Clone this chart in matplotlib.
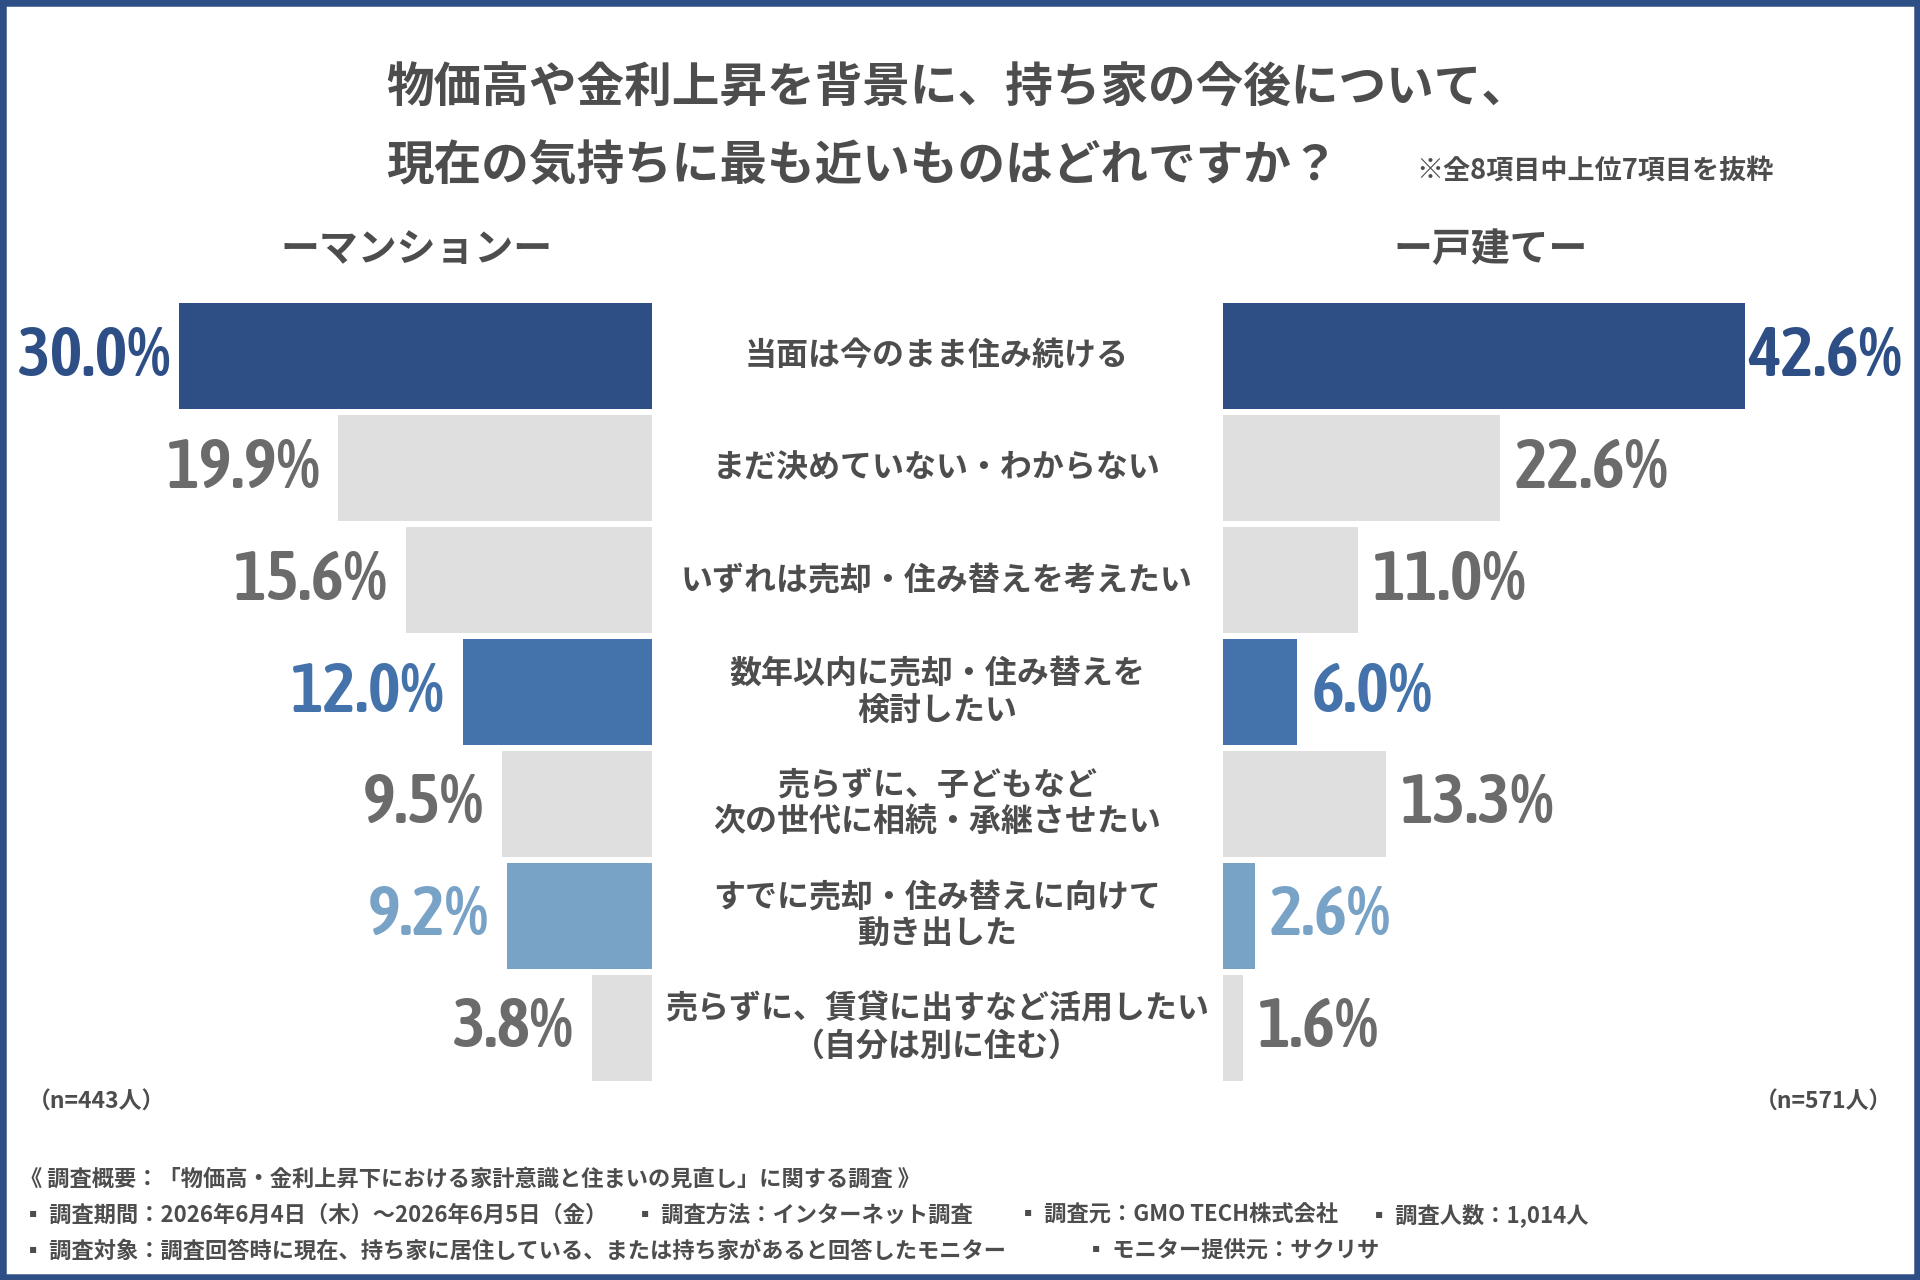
import matplotlib
matplotlib.use("Agg")
import matplotlib.pyplot as plt
from matplotlib import font_manager
from matplotlib.font_manager import FontProperties
from matplotlib.patches import Rectangle
from matplotlib.transforms import blended_transform_factory

# ---------------- data ----------------
categories = [
    "当面は今のまま住み続ける",
    "まだ決めていない・わからない",
    "いずれは売却・住み替えを考えたい",
    "数年以内に売却・住み替えを\n検討したい",
    "売らずに、子どもなど\n次の世代に相続・承継させたい",
    "すでに売却・住み替えに向けて\n動き出した",
    "売らずに、賃貸に出すなど活用したい\n（自分は別に住む）",
]
mansion = [30.0, 19.9, 15.6, 12.0, 9.5, 9.2, 3.8]
kodate = [42.6, 22.6, 11.0, 6.0, 13.3, 2.6, 1.6]
n_mansion = "（n=443人）"
n_kodate = "（n=571人）"
title_lines = ["物価高や金利上昇を背景に、持ち家の今後について、",
               "現在の気持ちに最も近いものはどれですか？"]
note = "※全8項目中上位7項目を抜粋"
left_header = "ーマンションー"
right_header = "ー戸建てー"
footer_line1 = "《 調査概要：「物価高・金利上昇下における家計意識と住まいの見直し」に関する調査 》"
footer_line2 = ["▪ 調査期間：2026年6月4日（木）～2026年6月5日（金）",
                "▪ 調査方法：インターネット調査",
                "▪ 調査元：GMO TECH株式会社",
                "▪ 調査人数：1,014人"]
footer_line3 = ["▪ 調査対象：調査回答時に現在、持ち家に居住している、または持ち家があると回答したモニター",
                "▪ モニター提供元：サクリサ"]

# ---------------- style ----------------
NAVY = "#2E4F86"
MID = "#4472AB"
LIGHT = "#78A2C6"
GREY = "#DFDFDF"
VAL_GREY = "#6B6B6B"
TXT = "#4D4D4D"
bar_colors = [NAVY, GREY, GREY, MID, GREY, LIGHT, GREY]
lab_colors = [NAVY, VAL_GREY, VAL_GREY, MID, VAL_GREY, LIGHT, VAL_GREY]


def _weight(f):
    w = f.weight
    if isinstance(w, str):
        w = font_manager.weight_dict.get(w, 400)
    return w


def pick_num_font():
    entries = [f for f in font_manager.fontManager.ttflist
               if 500 <= _weight(f) <= 800 and f.style == "normal"]
    entries.sort(key=lambda f: (abs(_weight(f) - 600), f.name))
    def find(pred):
        for f in entries:
            if pred(f):
                return f
        return None
    tests = [
        lambda f: f.name == "Liberation Sans Narrow",
        lambda f: str(f.stretch) == "condensed" and "DejaVu" not in f.name,
        lambda f: str(f.stretch) == "semi-condensed" and "DejaVu" not in f.name,
    ]
    for t in tests:
        r = find(t)
        if r is not None:
            return FontProperties(fname=r.fname, size=50)
    if any(f.name == "Roboto" for f in entries):
        return FontProperties(family="Roboto", weight="bold", size=45)
    return FontProperties(family="DejaVu Sans", weight="bold", size=42)


NUMPROP = pick_num_font()

JP = ["Noto Sans CJK JP", "DejaVu Sans"]
plt.rcParams["font.family"] = JP

W, H = 1920, 1280
fig = plt.figure(figsize=(W / 100, H / 100), dpi=100)
fig.patch.set_facecolor("white")


def px_rect(x0, y0, x1, y1):
    return [x0 / W, 1 - y1 / H, (x1 - x0) / W, (y1 - y0) / H]


pitch = 111.9
top = 356.3 - pitch / 2
bot = top + 7 * pitch
left_scale = 15.74   # px per %
right_scale = 12.25

axL = fig.add_axes(px_rect(0, top, 651.5, bot))
axR = fig.add_axes(px_rect(1223, top, W, bot))
ys = list(range(len(categories)))
axL.barh(ys, mansion, height=0.947, color=bar_colors)
axR.barh(ys, kodate, height=0.947, color=bar_colors)
axL.set_xlim(651.5 / left_scale, 0)
axR.set_xlim(0, (W - 1223) / right_scale)
for ax in (axL, axR):
    ax.set_ylim(len(categories) - 0.5, -0.5)
    ax.axis("off")

for i, v in enumerate(mansion):
    gap = 8 if v == max(mansion) else 18
    axL.annotate(f"{v:.1f}%", xy=(v, i), xytext=(-gap, 0), textcoords="offset pixels",
                 ha="right", va="center", fontproperties=NUMPROP,
                 color=lab_colors[i])
for i, v in enumerate(kodate):
    gap = 3 if v == max(kodate) else 15
    axR.annotate(f"{v:.1f}%", xy=(v, i), xytext=(gap, 0), textcoords="offset pixels",
                 ha="left", va="center", fontproperties=NUMPROP,
                 color=lab_colors[i])

tr = blended_transform_factory(fig.transFigure, axL.transData)
for i, c in enumerate(categories):
    fig.text(937 / W, i, c, transform=tr, ha="center", va="center",
             multialignment="center", fontsize=23, fontweight="bold",
             color=TXT, linespacing=1.2, family=JP)

# title
fig.text(386 / W, 1 - 89 / H, title_lines[0], ha="left", va="center",
         fontsize=34.3, fontweight="bold", color=TXT, family=JP)
fig.text(386 / W, 1 - 166 / H, title_lines[1], ha="left", va="center",
         fontsize=34.3, fontweight="bold", color=TXT, family=JP)
fig.text(1416 / W, 1 - 171 / H, note, ha="left", va="center",
         fontsize=19.5, fontweight="bold", color=TXT, family=JP)

fig.text(416 / W, 1 - 250 / H, left_header, ha="center", va="center",
         fontsize=28, fontweight="bold", color=TXT, family=JP)
fig.text(1491 / W, 1 - 250 / H, right_header, ha="center", va="center",
         fontsize=28, fontweight="bold", color=TXT, family=JP)

fig.text(28 / W, 1 - 1102 / H, n_mansion, ha="left", va="center",
         fontsize=16.5, fontweight="bold", color=TXT, family=JP)
fig.text(1892 / W, 1 - 1102 / H, n_kodate, ha="right", va="center",
         fontsize=16.5, fontweight="bold", color=TXT, family=JP)

# footer
fs = 16
fig.text(20 / W, 1 - 1179 / H, footer_line1, ha="left", va="center",
         fontsize=fs, fontweight="bold", color=TXT, family=JP)
for x, s in zip([22, 634, 1017, 1368], footer_line2):
    fig.text(x / W, 1 - 1215 / H, s, ha="left", va="center",
             fontsize=fs, fontweight="bold", color=TXT, family=JP)
for x, s in zip([22, 1085], footer_line3):
    fig.text(x / W, 1 - 1251 / H, s, ha="left", va="center",
             fontsize=fs, fontweight="bold", color=TXT, family=JP)

# frame
fig.patches.append(Rectangle((0, 0), 1, 1, transform=fig.transFigure, fill=False,
                             edgecolor=NAVY, linewidth=9, zorder=10))

fig.savefig("out.png", dpi=100, facecolor="white")
